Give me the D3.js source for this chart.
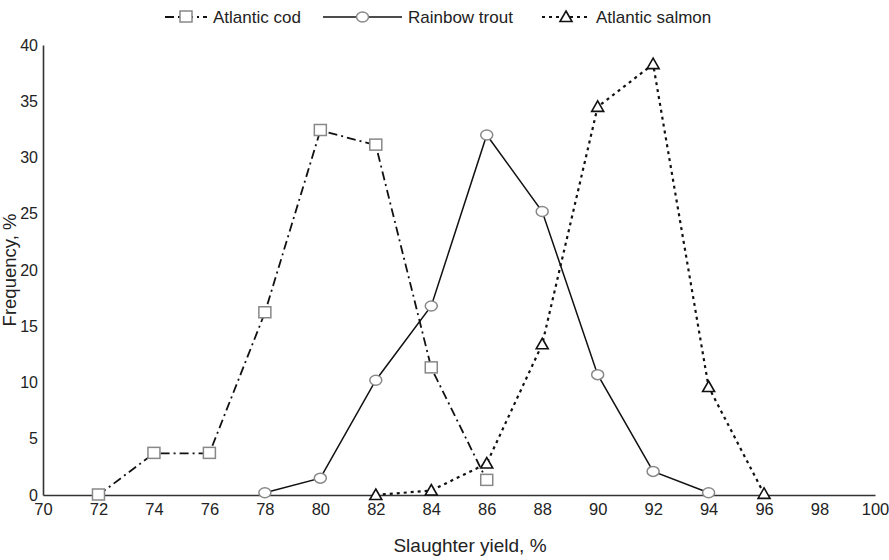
<!DOCTYPE html>
<html>
<head>
<meta charset="utf-8">
<script src="https://cdn.jsdelivr.net/npm/d3@7"></script>
<style>
  html, body { margin: 0; padding: 0; background: #fff; }
  svg { display: block; font-family: "Liberation Sans", Arial, Helvetica, sans-serif; }
</style>
</head>
<body>
<svg id="chart" width="889" height="560"></svg>
<script>
// ---- data ----
const seriesNames = ["Atlantic cod", "Rainbow trout", "Atlantic salmon"];
const codX = [72, 74, 76, 78, 80, 82, 84, 86];
const codY = [0, 3.7, 3.7, 16.2, 32.4, 31.1, 11.3, 1.3];
const troutX = [78, 80, 82, 84, 86, 88, 90, 92, 94];
const troutY = [0.2, 1.5, 10.2, 16.8, 32.0, 25.2, 10.7, 2.1, 0.2];
const salmonX = [82, 84, 86, 88, 90, 92, 94, 96];
const salmonY = [0, 0.4, 2.8, 13.4, 34.5, 38.3, 9.6, 0.1];
const xTicks = [70, 72, 74, 76, 78, 80, 82, 84, 86, 88, 90, 92, 94, 96, 98, 100];
const yTicks = [0, 5, 10, 15, 20, 25, 30, 35, 40];
const xTitle = "Slaughter yield, %";
const yTitle = "Frequency, %";

// ---- layout ----
const svg = d3.select("#chart");
const x = d3.scaleLinear().domain([70, 100]).range([43, 875]);
const y = d3.scaleLinear().domain([0, 40]).range([495, 45]);

const series = [
  { name: seriesNames[0], pts: codX.map((v, i) => [v, codY[i]]), dash: "9,4,2,4", width: 1.8, color: "#111", marker: "square" },
  { name: seriesNames[1], pts: troutX.map((v, i) => [v, troutY[i]]), dash: null, width: 1.5, color: "#111", marker: "circle" },
  { name: seriesNames[2], pts: salmonX.map((v, i) => [v, salmonY[i]]), dash: "3,4", width: 2.2, color: "#111", marker: "triangle" }
];

// axes
const xAxis = d3.axisBottom(x).tickValues(xTicks).tickSize(0).tickPadding(8);
const yAxis = d3.axisLeft(y).tickValues(yTicks).tickSize(0).tickPadding(5);

const gx = svg.append("g").attr("transform", `translate(0,${y(0)})`).call(xAxis);
const gy = svg.append("g").attr("transform", `translate(${x(70)},0)`).call(yAxis);
[gx, gy].forEach(g => {
  g.select(".domain").attr("stroke", "#333").attr("stroke-width", 1.6);
  g.selectAll("text").attr("font-size", 16.5).attr("fill", "#222")
    .attr("font-family", "'Liberation Sans', Arial, sans-serif");
});
gy.selectAll("text").attr("font-size", 16);

svg.append("text").attr("x", 470).attr("y", 552).attr("text-anchor", "middle")
  .attr("font-size", 19).attr("fill", "#222").text(xTitle);
svg.append("text").attr("transform", `translate(16,270) rotate(-90)`)
  .attr("text-anchor", "middle").attr("font-size", 18.5).attr("fill", "#222").text(yTitle);

// markers
function drawMarker(g, type, cx, cy) {
  if (type === "square") {
    g.append("rect").attr("x", cx - 6).attr("y", cy - 6).attr("width", 12).attr("height", 11)
      .attr("fill", "#fff").attr("stroke", "#888").attr("stroke-width", 1.5);
  } else if (type === "circle") {
    g.append("ellipse").attr("cx", cx).attr("cy", cy).attr("rx", 6).attr("ry", 5)
      .attr("fill", "#fff").attr("stroke", "#888").attr("stroke-width", 1.5);
  } else {
    const s = 6;
    g.append("path").attr("d", `M${cx},${cy - s} L${cx + s},${cy + s * 0.75} L${cx - s},${cy + s * 0.75} Z`)
      .attr("fill", "#fff").attr("stroke", "#111").attr("stroke-width", 1.6);
  }
}

const line = d3.line().x(d => x(d[0])).y(d => y(d[1]));

series.forEach(s => {
  svg.append("path").datum(s.pts).attr("d", line).attr("fill", "none")
    .attr("stroke", s.color).attr("stroke-width", s.width)
    .attr("stroke-dasharray", s.dash);
});
series.forEach(s => {
  const g = svg.append("g");
  s.pts.forEach(p => drawMarker(g, s.marker, x(p[0]), y(p[1])));
});

// legend
const legendPos = [{ x0: 165, x1: 207 }, { x0: 323, x1: 402 }, { x0: 542, x1: 590 }];
const ly = 17;
series.forEach((s, i) => {
  const lp = legendPos[i];
  const g = svg.append("g");
  g.append("line").attr("x1", lp.x0).attr("x2", lp.x1).attr("y1", ly).attr("y2", ly)
    .attr("stroke", s.color).attr("stroke-width", s.width).attr("stroke-dasharray", s.dash);
  drawMarker(g, s.marker, (lp.x0 + lp.x1) / 2, ly);
  g.append("text").attr("x", lp.x1 + 6).attr("y", ly + 6).attr("font-size", 17)
    .attr("fill", "#222").text(s.name);
});
</script>
</body>
</html>
